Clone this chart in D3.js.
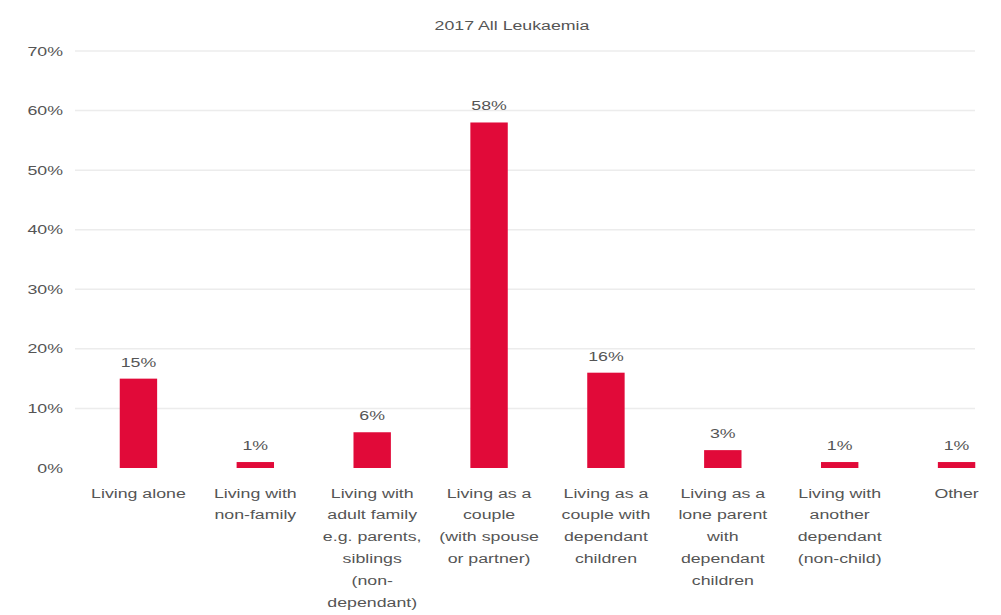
<!DOCTYPE html>
<html>
<head>
<meta charset="utf-8">
<script src="https://cdn.jsdelivr.net/npm/d3@7"></script>
<style>
  html, body { margin: 0; padding: 0; background: #fff; }
  svg { display: block; }
  text { font-family: "Liberation Sans", Arial, sans-serif; fill: #555; }
</style>
</head>
<body>
<svg id="chart" width="1001" height="615"></svg>
<script>
// Household situation, 2017 All Leukaemia (share of respondents, %)
const title = "2017 All Leukaemia";
const categories = [
  "Living alone",
  "Living with\nnon-family",
  "Living with\nadult family\ne.g. parents,\nsiblings\n(non-\ndependant)",
  "Living as a\ncouple\n(with spouse\nor partner)",
  "Living as a\ncouple with\ndependant\nchildren",
  "Living as a\nlone parent\nwith\ndependant\nchildren",
  "Living with\nanother\ndependant\n(non-child)",
  "Other"
];
const values = [15, 1, 6, 58, 16, 3, 1, 1];
const yTicks = [0, 10, 20, 30, 40, 50, 60, 70];

const W = 1001, H = 615;
const margin = { left: 80, right: -14, top: 51, bottom: 147 };
const stretch = 1.42; // wide text rendering

const svg = d3.select("#chart");

const x = d3.scaleBand()
  .domain(categories)
  .range([margin.left, W - margin.right])
  .paddingInner(0.68)
  .paddingOuter(0.34);

const y = d3.scaleLinear()
  .domain([0, 70])
  .range([H - margin.bottom, margin.top]);

// horizontal gridlines
svg.append("g")
  .selectAll("line")
  .data(yTicks.filter(d => d > 0))
  .join("line")
  .attr("x1", 75).attr("x2", 975)
  .attr("y1", d => y(d)).attr("y2", d => y(d))
  .attr("stroke", "#ececec")
  .attr("stroke-width", 1.5);

// y tick labels
svg.append("g")
  .selectAll("text")
  .data(yTicks)
  .join("text")
  .attr("transform", d => `translate(63,${y(d) + 4.5}) scale(${stretch},1)`)
  .attr("text-anchor", "end")
  .attr("font-size", 12.5)
  .text(d => d + "%");

// bars
svg.append("g")
  .selectAll("rect")
  .data(values)
  .join("rect")
  .attr("x", (d, i) => x(categories[i]))
  .attr("width", x.bandwidth())
  .attr("y", d => y(d))
  .attr("height", d => y(0) - y(d))
  .attr("fill", "#e10a39");

// value labels
svg.append("g")
  .selectAll("text")
  .data(values)
  .join("text")
  .attr("transform", (d, i) => `translate(${x(categories[i]) + x.bandwidth() / 2},${y(d) - 12}) scale(${stretch},1)`)
  .attr("text-anchor", "middle")
  .attr("font-size", 12.5)
  .text(d => d + "%");

// category labels
const lineH = 21.8;
const cat = svg.append("g")
  .selectAll("g")
  .data(categories)
  .join("g")
  .attr("transform", d => `translate(${x(d) + x.bandwidth() / 2},497.5)`);
cat.each(function (d) {
  const g = d3.select(this);
  d.split("\n").forEach((ln, k) => {
    g.append("text")
      .attr("transform", `translate(0,${k * lineH}) scale(${stretch},1)`)
      .attr("text-anchor", "middle")
      .attr("font-size", 12.5)
      .text(ln);
  });
});

// title
svg.append("text")
  .attr("transform", `translate(512,29.5) scale(${stretch},1)`)
  .attr("text-anchor", "middle")
  .attr("font-size", 12.5)
  .text(title);
</script>
</body>
</html>
